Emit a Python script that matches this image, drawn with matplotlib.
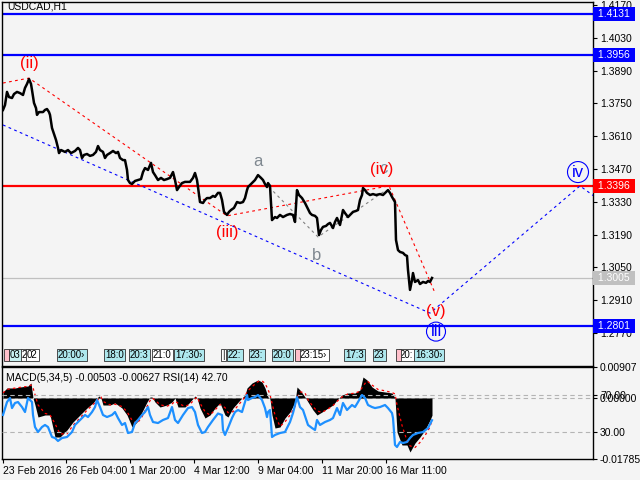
import matplotlib
matplotlib.use("Agg")
import matplotlib.pyplot as plt
from matplotlib import transforms

plt.rcParams['font.family'] = ['Liberation Sans', 'DejaVu Sans']

# =========================
# Data
# =========================
symbol = "USDCAD,H1"

# close prices, x = bar index (1 bar = 1 hour)
bar_x = [0, 2, 4, 6, 9, 11, 14, 17, 20, 22, 24, 26, 28, 29, 31, 33, 34, 36, 40, 42,
         44, 46, 47, 49, 51, 53, 55, 56, 58, 62, 65, 68, 72, 75, 77, 79, 81, 84, 87, 90,
         93, 95, 97, 100, 102, 104, 107, 110, 113, 115, 117, 120, 122, 124, 125, 127, 129, 132, 135, 138,
         140, 142, 145, 148, 150, 152, 155, 158, 161, 164, 167, 170, 172, 174, 176, 179, 182, 185, 187, 190,
         192, 194, 195, 197, 200, 202, 204, 207, 210, 212, 215, 217, 219, 221, 224, 226, 228, 231, 234, 237,
         240, 242, 244, 245, 248, 252, 255, 258, 260, 262, 264, 265, 267, 269, 272, 274, 277, 280, 284, 287,
         290, 292, 294, 296, 299, 302, 304, 307, 309, 312, 314, 316, 318, 320, 323, 325, 327, 330, 332, 334,
         337, 340, 342, 345, 347, 350, 353, 355, 357, 359, 360, 362, 364, 367, 370, 373, 377, 380, 383, 385,
         387, 389, 392, 393, 395, 397, 400, 402, 404, 405, 407, 409, 410, 412, 415, 417, 420, 423, 425, 427,
         429]
close = [1.3722, 1.3743, 1.3799, 1.3777, 1.3773, 1.3790, 1.3799, 1.3794, 1.3786, 1.3816,
         1.3833, 1.3854, 1.3833, 1.3807, 1.3752, 1.3730, 1.3701, 1.3713, 1.3713, 1.3722,
         1.3726, 1.3713, 1.3701, 1.3645, 1.3619, 1.3594, 1.3560, 1.3538, 1.3551, 1.3543,
         1.3551, 1.3538, 1.3547, 1.3560, 1.3551, 1.3517, 1.3530, 1.3534, 1.3526, 1.3530,
         1.3543, 1.3568, 1.3551, 1.3543, 1.3517, 1.3530, 1.3538, 1.3547, 1.3538, 1.3543,
         1.3517, 1.3508, 1.3508, 1.3466, 1.3423, 1.3410, 1.3406, 1.3419, 1.3423, 1.3427,
         1.3457, 1.3474, 1.3466, 1.3496, 1.3457, 1.3444, 1.3423, 1.3432, 1.3423, 1.3427,
         1.3432, 1.3457, 1.3423, 1.3380, 1.3393, 1.3410, 1.3415, 1.3415, 1.3415, 1.3432,
         1.3453, 1.3423, 1.3393, 1.3329, 1.3325, 1.3338, 1.3346, 1.3346, 1.3355, 1.3351,
         1.3368, 1.3368, 1.3338, 1.3287, 1.3274, 1.3287, 1.3295, 1.3304, 1.3329, 1.3325,
         1.3329, 1.3346, 1.3380, 1.3393, 1.3406, 1.3423, 1.3444, 1.3432, 1.3423, 1.3406,
         1.3393, 1.3410, 1.3398, 1.3252, 1.3265, 1.3261, 1.3274, 1.3265, 1.3274, 1.3278,
         1.3274, 1.3244, 1.3380, 1.3359, 1.3346, 1.3325, 1.3308, 1.3282, 1.3274, 1.3270,
         1.3261, 1.3188, 1.3210, 1.3223, 1.3227, 1.3235, 1.3240, 1.3218, 1.3244, 1.3261,
         1.3231, 1.3295, 1.3282, 1.3265, 1.3274, 1.3287, 1.3291, 1.3295, 1.3338, 1.3359,
         1.3389, 1.3380, 1.3368, 1.3359, 1.3363, 1.3359, 1.3363, 1.3359, 1.3372, 1.3380,
         1.3368, 1.3351, 1.3329, 1.3167, 1.3124, 1.3116, 1.3112, 1.3103, 1.3099, 1.3039,
         1.2954, 1.2996, 1.3026, 1.2988, 1.2996, 1.2979, 1.2988, 1.2984, 1.2992, 1.2988,
         1.3005]

# horizontal levels
blue_levels = [1.4131, 1.3956, 1.2801]
red_level = 1.3396
bid_level = 1.3005

# wave paths (bar index, price)
red_wave_x = [0, 26, 224, 386, 432]
red_wave_y = [1.3837, 1.3858, 1.3270, 1.3398, 1.2941]
blue_wave_x = [0, 427, 577, 592]
blue_wave_y = [1.3658, 1.2855, 1.3398, 1.3351]
abc_x = [266, 315, 383]
abc_y = [1.3393, 1.3180, 1.3380]

price_ticks = [1.4170, 1.4030, 1.3890, 1.3750, 1.3610, 1.3470,
               1.3330, 1.3190, 1.3050, 1.2910, 1.2770]

# news/event markers on the bottom of the price window
event_x = [7, 19, 24, 55, 102, 127, 150, 172, 219, 225, 247, 270, 297, 342, 371, 397, 412]
event_txt = ["03", "2", "02", "20:00\u203a", "18:0", "20:3", "21:0", "17:30\u203a", "|",
             "22:", "23:", "20:0", "23:15\u203a", "17:3", "23", "20:", "16:30\u203a"]
event_col = ["#c8f0f0", "#ffffff", "#ffffff", "#aee8ee", "#aee8ee", "#aee8ee", "#ffffff",
             "#aee8ee", "#ffffff", "#aee8ee", "#aee8ee", "#aee8ee", "#ffffff", "#aee8ee",
             "#aee8ee", "#ffffff", "#aee8ee"]
pink_x = [2, 293, 394]

# MACD(5,34,5) histogram and signal
macd_x = [0, 4, 12, 17, 25, 28, 30, 32, 35, 42, 47, 52, 57, 64, 70, 77, 84, 90, 94, 96,
          98, 100, 107, 112, 119, 124, 129, 134, 139, 144, 147, 149, 152, 157, 164, 169, 172, 175, 182, 187,
          192, 194, 197, 202, 207, 212, 217, 222, 225, 230, 237, 242, 244, 249, 255, 259, 262, 265, 267, 269,
          272, 277, 282, 287, 292, 294, 297, 302, 305, 310, 314, 319, 325, 330, 334, 339, 345, 352, 357, 360,
          364, 369, 375, 382, 389, 392, 394, 399, 404, 407, 412, 417, 422, 427, 429]
macd = [0.00176, 0.00293, 0.00293, 0.00322, 0.00351, 0.00439, 0.0, -0.00205, -0.00556, -0.00497,
        -0.00497, -0.01141, -0.01141, -0.00936, -0.00702, -0.00497, -0.00293, -0.00146, 0.0, 0.00059,
        0.0, -0.00205, -0.00205, -0.00146, -0.00293, -0.00497, -0.00848, -0.00702, -0.00410, -0.00117,
        0.00029, 0.00029, -0.00117, -0.00263, -0.00205, -0.00117, 0.0, -0.00263, -0.00263, -0.00117,
        0.00059, 0.0, -0.00293, -0.00585, -0.00497, -0.00293, -0.00146, -0.00497, -0.00556, -0.00293,
        -0.00059, 0.00088, 0.00293, 0.00439, 0.00527, 0.00468, 0.00293, 0.00029, -0.00029, -0.00497,
        -0.00878, -0.00848, -0.00585, -0.00410, -0.00117, 0.00322, 0.00234, 0.00029, -0.00117, -0.00351,
        -0.00497, -0.00410, -0.00293, -0.00205, -0.00059, 0.00088, 0.00146, 0.00146, 0.00234, 0.00614,
        0.00527, 0.00322, 0.00205, 0.00176, 0.00146, 0.0, -0.00995, -0.01375, -0.01375, -0.01580,
        -0.01317, -0.01141, -0.00936, -0.00643, -0.00503]
signal = [0.0015, 0.0025, 0.0029, 0.0031, 0.0034, 0.0038, 0.0030, 0.0010, -0.0020, -0.0045,
          -0.0049, -0.0075, -0.0105, -0.0105, -0.0080, -0.0058, -0.0036, -0.0019, -0.0009, 0.0,
          0.0003, -0.0010, -0.0020, -0.0018, -0.0025, -0.0040, -0.0065, -0.0075, -0.0055, -0.0025,
          -0.0008, 0.0, -0.0006, -0.0020, -0.0024, -0.0018, -0.0009, -0.0015, -0.0025, -0.0018,
          -0.0003, 0.0003, -0.0015, -0.0040, -0.0050, -0.0035, -0.0019, -0.0028, -0.0043, -0.0040,
          -0.0015, 0.0003, 0.0018, 0.0033, 0.0048, 0.0050, 0.0043, 0.0025, 0.0010, -0.0015,
          -0.0050, -0.0083, -0.0070, -0.0050, -0.0025, 0.0, 0.0018, 0.0015, -0.0005, -0.0025,
          -0.0038, -0.0042, -0.0032, -0.0022, -0.0010, 0.0003, 0.0012, 0.0014, 0.0020, 0.0035,
          0.0050, 0.0038, 0.0025, 0.0021, 0.0016, 0.0012, -0.0020, -0.0080, -0.0125, -0.0140,
          -0.0145, -0.0130, -0.0110, -0.0085, -0.00627]

# RSI(14)
rsi_x = [0, 4, 7, 9, 12, 15, 19, 22, 25, 29, 30, 32, 35, 39, 42, 45, 49, 52, 55, 59,
         64, 69, 72, 75, 79, 82, 85, 89, 92, 94, 97, 100, 104, 109, 112, 115, 119, 122, 125, 129,
         132, 135, 139, 142, 145, 147, 150, 155, 160, 165, 169, 172, 175, 180, 185, 189, 192, 195, 199, 202,
         205, 210, 215, 219, 220, 222, 225, 229, 232, 235, 239, 242, 244, 245, 249, 252, 255, 259, 262, 264,
         265, 267, 269, 272, 277, 282, 287, 290, 294, 297, 300, 305, 309, 312, 314, 317, 322, 327, 330, 334,
         337, 340, 344, 349, 352, 355, 359, 362, 365, 369, 372, 377, 382, 385, 389, 390, 392, 394, 397, 400,
         404, 407, 410, 415, 420, 425, 429]
rsi = [48.4, 62.4, 66.8, 55.9, 61.4, 62.4, 57.0, 51.6, 66.8, 62.4, 48.4, 35.4, 30.0, 35.4, 37.6, 35.4,
       24.6, 23.5, 20.3, 23.5, 24.6, 30.0, 37.6, 40.8, 45.1, 48.4, 46.2, 51.6, 57.0, 64.6, 57.0, 48.4,
       46.2, 48.4, 51.6, 45.1, 37.6, 39.7, 28.9, 30.0, 39.7, 43.0, 48.4, 51.6, 57.0, 48.4, 40.8, 39.7,
       43.0, 45.1, 57.0, 43.0, 39.7, 48.4, 55.9, 57.0, 51.6, 37.6, 28.9, 30.0, 35.4, 43.0, 50.0, 48.4,
       32.2, 26.8, 34.3, 45.1, 51.6, 53.8, 51.6, 62.4, 70.0, 64.6, 66.8, 67.8, 70.0, 64.6, 55.9, 46.2,
       51.6, 53.8, 24.6, 26.8, 28.9, 30.0, 40.8, 50.5, 67.8, 57.0, 53.8, 37.6, 34.3, 32.2, 43.0, 37.6,
       40.8, 43.0, 45.1, 55.9, 48.4, 61.4, 53.8, 59.2, 57.0, 62.4, 70.0, 66.8, 59.2, 57.0, 55.9, 57.0,
       59.2, 55.9, 50.5, 45.1, 16.0, 13.8, 19.2, 18.1, 19.2, 23.5, 26.8, 28.9, 30.0, 34.3, 42.7]

time_ticks = [0, 63, 127, 191, 255, 319, 383]
time_labels = ["23 Feb 2016", "26 Feb 04:00", "1 Mar 20:00", "4 Mar 12:00",
               "9 Mar 04:00", "11 Mar 20:00", "16 Mar 11:00"]

# =========================
# Figure
# =========================
bg = "#f4f4f4"
W, H = 640, 480
fs = 7.5
fig = plt.figure(figsize=(6.4, 4.8), dpi=100, facecolor=bg)
ax = fig.add_axes([2 / W, 1 - 366 / H, 591 / W, 364 / H], facecolor=bg)
ax2 = fig.add_axes([2 / W, 1 - 459 / H, 591 / W, 92 / H], facecolor=bg)

x_lim = (-1, 590)
for a in (ax, ax2):
    a.set_xlim(*x_lim)
    for s in a.spines.values():
        s.set_color("black")
        s.set_linewidth(1.0)

# ---- price window
ax.set_ylim(1.26292, 1.41828)
for lv in blue_levels:
    ax.axhline(lv, color="#0000ff", lw=1.6, zorder=2)
ax.axhline(red_level, color="#ff0000", lw=1.6, zorder=2)
ax.axhline(bid_level, color="#c0c0c0", lw=0.9, zorder=1)

ax.plot(red_wave_x, red_wave_y, color="#ff0000", lw=0.8, ls=(0, (2.5, 3)), zorder=3)
ax.plot(blue_wave_x, blue_wave_y, color="#0000ff", lw=0.8, ls=(0, (2.5, 3)), zorder=3)
ax.plot(abc_x, abc_y, color="#808080", lw=0.8, ls=(0, (2.5, 3)), zorder=3)

ax.plot(bar_x, close, color="black", lw=1.8, zorder=4)

lab = dict(fontsize=12, ha="center", va="center", zorder=6)
ax.text(26, 1.3922, "(ii)", color="#ff0000", **lab)
ax.text(224, 1.3197, "(iii)", color="#ff0000", **lab)
ax.text(380, 1.3472, "c", color="#7f8fa0", **lab)
ax.text(379, 1.3470, "(iv)", color="#ff0000", **lab)
ax.text(433, 1.2860, "(v)", color="#ff0000", **lab)
ax.text(255, 1.3504, "a", color="#7f8890", **lab)
ax.text(314, 1.3099, "b", color="#7f8890", **lab)
ax.text(433, 1.2776, "iii", color="#0000ff",
        bbox=dict(boxstyle="circle,pad=0.12", fc="none", ec="#0000ff", lw=0.8), **lab)
ax.text(575, 1.3457, "iv", color="#0000ff",
        bbox=dict(boxstyle="circle,pad=0.18", fc="none", ec="#0000ff", lw=0.8), **lab)

# event markers
ev_y = 1.2676
for ex, et, ec in zip(event_x, event_txt, event_col):
    ax.text(ex, ev_y, et, fontsize=7, ha="left", va="center", zorder=5,
            bbox=dict(boxstyle="square,pad=0.15", fc=ec, ec="#303030", lw=0.6))
for px in pink_x:
    ax.text(px, ev_y, " ", fontsize=7, ha="left", va="center", zorder=5,
            bbox=dict(boxstyle="square,pad=0.1", fc="#ffc0cb", ec="#303030", lw=0.6))

ax.text(4, 1.4162, symbol, fontsize=fs, ha="left", va="center")

ax.set_xticks([])
ax.yaxis.tick_right()
ax.set_yticks(price_ticks)
ax.set_yticklabels([f"{p:.4f}" for p in price_ticks])
ax.tick_params(axis="y", direction="out", length=3, width=0.8, pad=2, labelsize=fs)

trans = transforms.blended_transform_factory(ax.transAxes, ax.transData)
for lv, col in [(blue_levels[0], "#0000ff"), (blue_levels[1], "#0000ff"),
                (red_level, "#ff0000"), (bid_level, "#c0c0c0"), (blue_levels[2], "#0000ff")]:
    ax.text(1.004, lv, f" {lv:.4f} ", transform=trans, fontsize=fs, color="white",
            ha="left", va="center", clip_on=False, zorder=7,
            bbox=dict(boxstyle="square,pad=0.2", fc=col, ec="none"))

# ---- indicator window
ax2.set_ylim(-0.01785, 0.00907)
ax2.fill_between(macd_x, 0, macd, color="black", lw=0, zorder=2)
ax2.plot(macd_x, signal, color="#ff0000", lw=0.9, ls=(0, (2, 2.5)), zorder=3)
ax2.axhline(0, color="#b4b4b4", lw=0.8, ls=(0, (4, 3)), zorder=1)

ax3 = ax2.twinx()
ax3.set_ylim(0.8, 100.3)
ax3.axhline(70, color="#b4b4b4", lw=0.8, ls=(0, (4, 3)), zorder=1)
ax3.axhline(30, color="#b4b4b4", lw=0.8, ls=(0, (4, 3)), zorder=1)
ax3.plot(rsi_x, rsi, color="#1e90ff", lw=1.6, zorder=4)
ax3.set_yticks([70, 30])
ax3.set_yticklabels(["70.00", "30.00"])
ax3.tick_params(axis="y", direction="out", length=3, width=0.8, pad=2, labelsize=fs)
for s in ax3.spines.values():
    s.set_visible(False)

ax2.yaxis.tick_right()
ax2.set_yticks([0.00907, 0.0, -0.01785])
ax2.set_yticklabels(["0.00907", "0.00000", "-0.01785"])
ax2.tick_params(axis="y", direction="out", length=3, width=0.8, pad=2, labelsize=fs)
ax2.set_xticks(time_ticks)
ax2.set_xticklabels(time_labels, ha="left")
ax2.tick_params(axis="x", direction="out", length=3, width=0.8, pad=2, labelsize=fs)

ax2.text(0.006, 0.88, "MACD(5,34,5) -0.00503 -0.00627 RSI(14) 42.70",
         transform=ax2.transAxes, fontsize=fs, ha="left", va="center", zorder=6)

fig.savefig("out.png", dpi=100, facecolor=bg)
